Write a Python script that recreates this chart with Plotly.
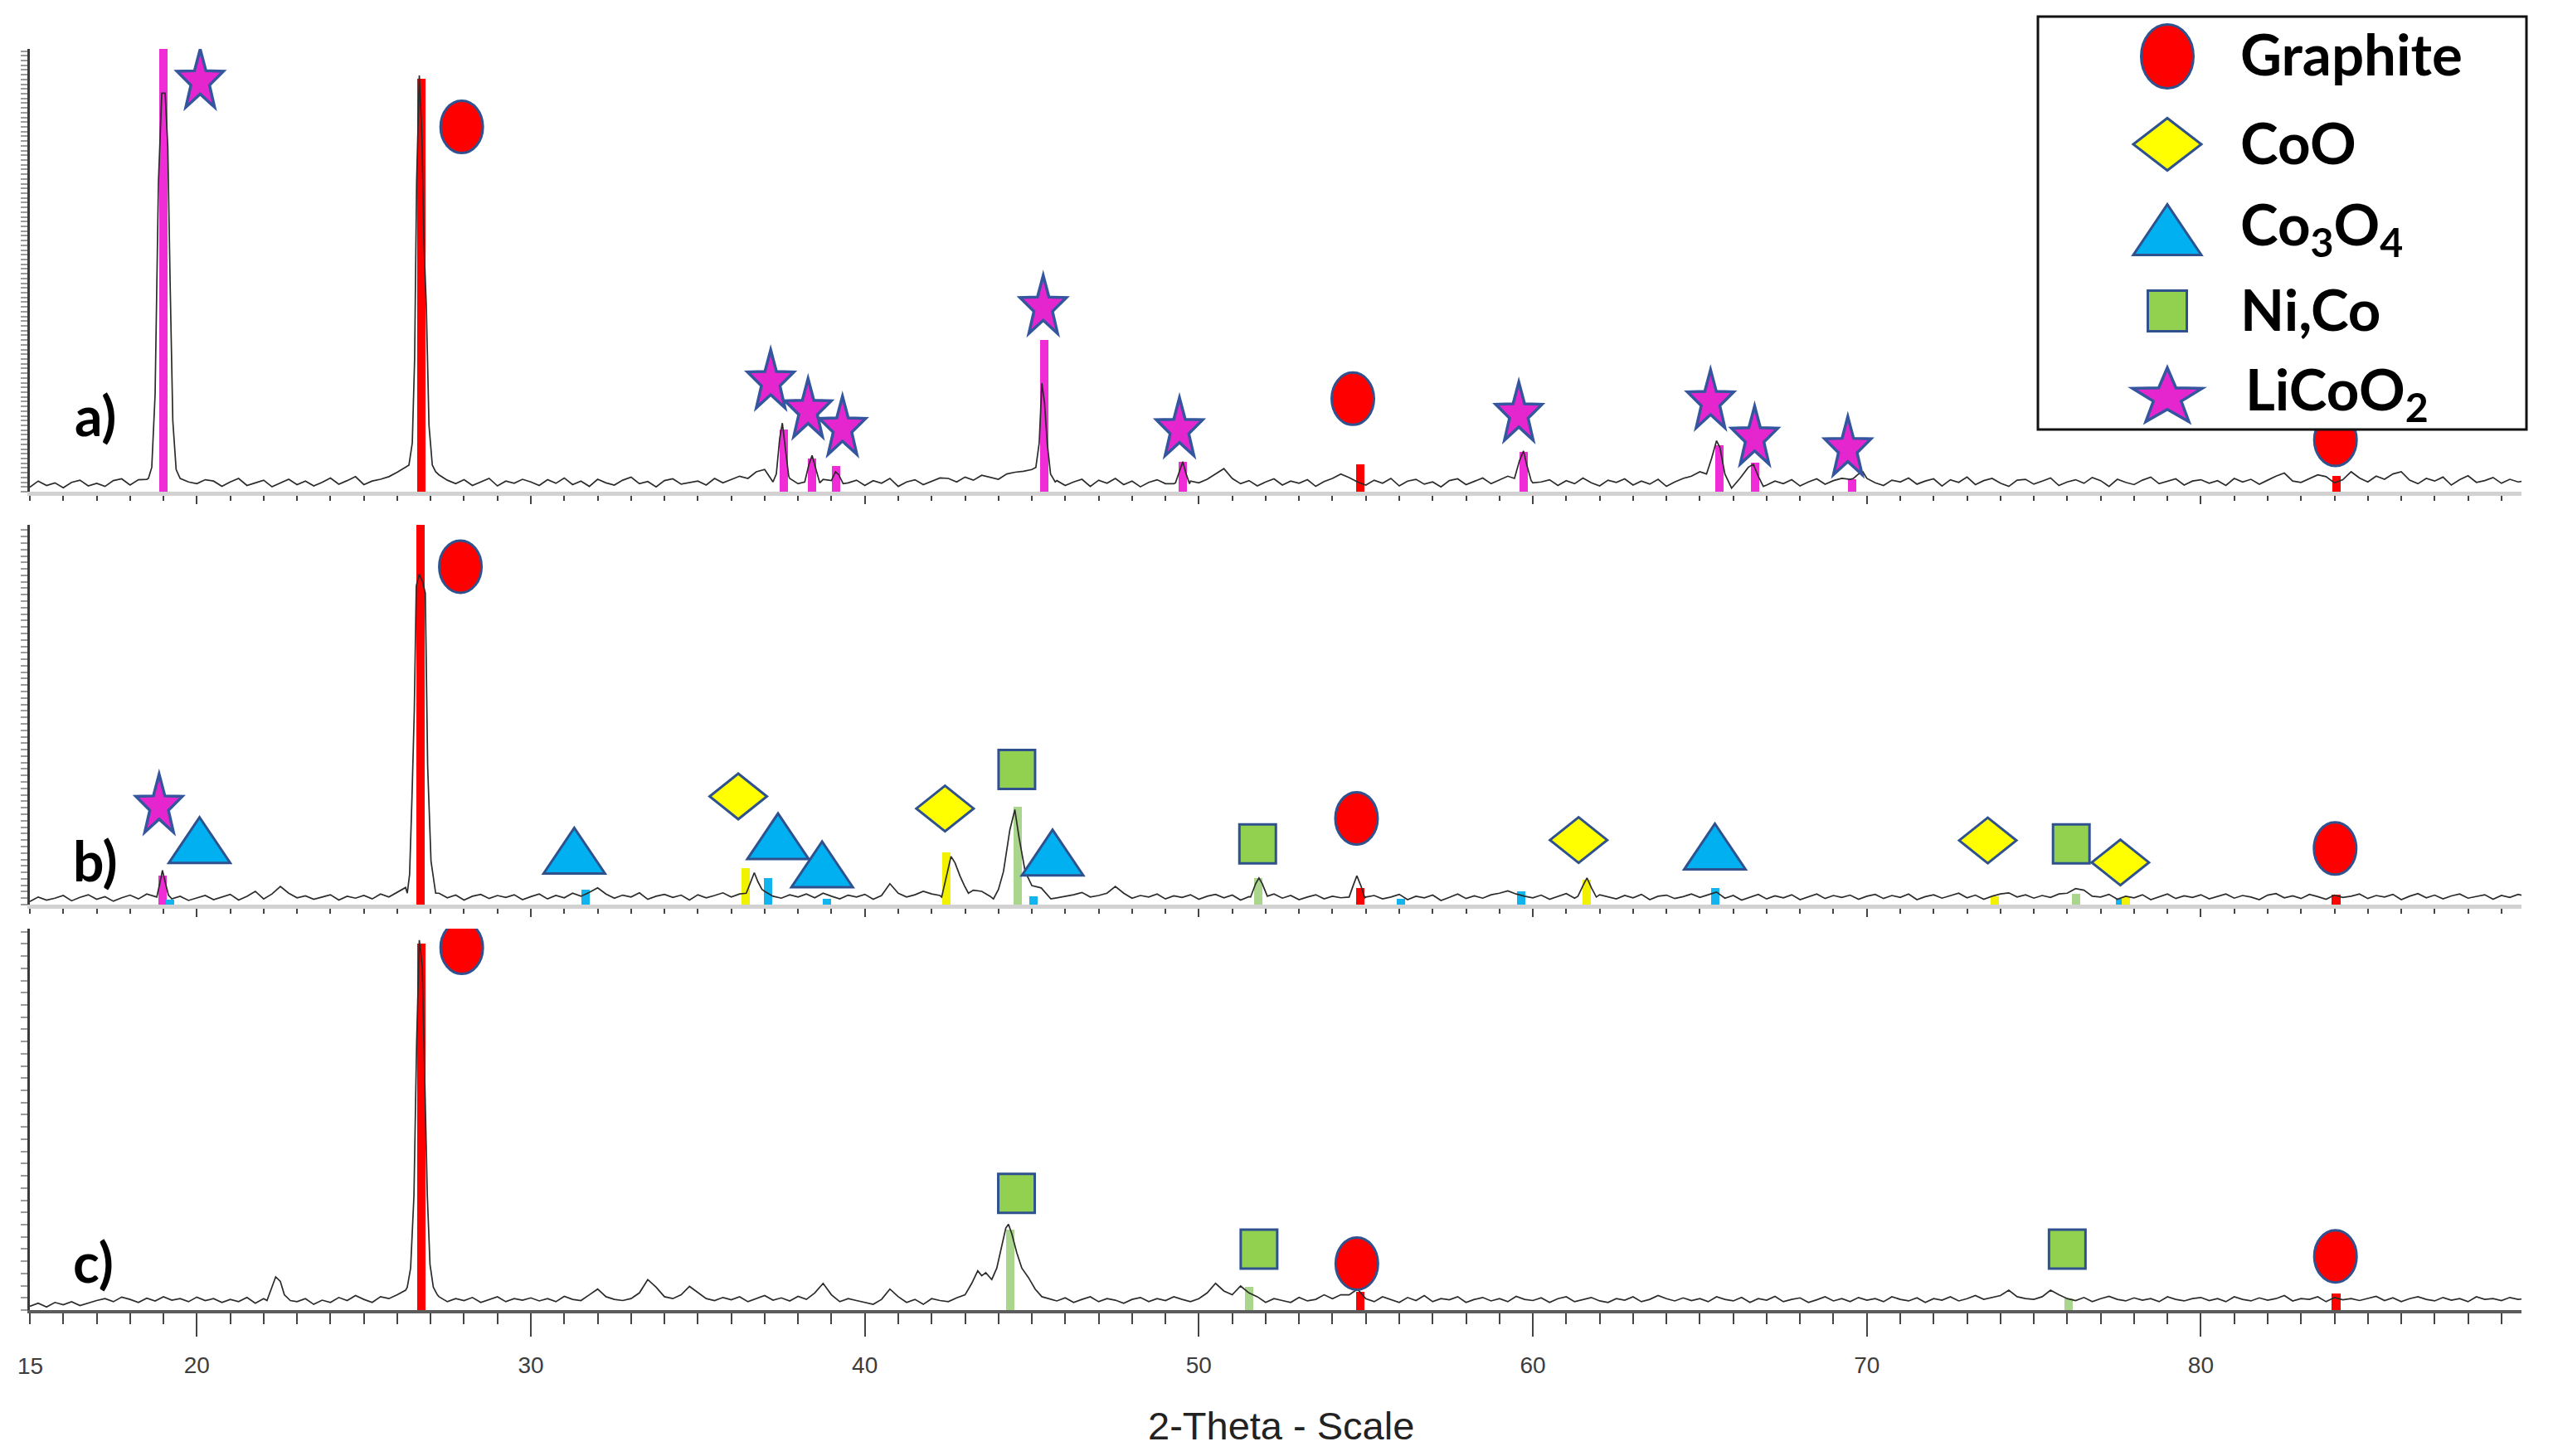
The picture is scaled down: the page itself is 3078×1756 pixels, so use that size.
import math
import plotly.graph_objects as go

# ---------------------------------------------------------------- data
X_START = 15.0          # first sample of the scan (deg 2-theta)
X_STEP = 0.25           # sampling step of the background readings
X_RANGE = [15.0, 89.6]

# background readings (per-mille of each panel's full scale), 15.00 .. 89.75 deg
noise_a = [
    10, 24, 14, 20, 9, 21, 26, 13, 19, 12, 25, 29, 15, 27, 28, 30, 60, 40, 35, 22,
    18, 27, 24, 12, 22, 30, 14, 20, 26, 11, 19, 28, 16, 24, 13, 21, 31, 17, 25, 34,
    16, 24, 28, 34, 44, 55, 60, 60, 60, 38, 26, 18, 27, 14, 22, 30, 13, 24, 19, 28,
    22, 14, 27, 19, 31, 16, 24, 12, 28, 20, 15, 26, 33, 18, 23, 11, 25, 29, 17, 21,
    24, 15, 30, 20, 27, 35, 30, 45, 50, 22, 30, 30, 18, 30, 30, 28, 30, 30, 20, 26,
    14, 25, 19, 30, 12, 22, 27, 16, 24, 31, 30, 22, 33, 26, 37, 32, 28, 40, 44, 46,
    50, 30, 30, 25, 14, 22, 28, 12, 26, 19, 30, 16, 24, 11, 21, 27, 18, 18, 30, 24,
    20, 28, 40, 52, 30, 18, 25, 13, 22, 29, 15, 24, 19, 27, 12, 23, 30, 40, 32, 22,
    15, 26, 19, 30, 13, 24, 28, 17, 22, 11, 25, 29, 16, 23, 31, 18, 26, 35, 30, 30,
    20, 22, 27, 14, 25, 18, 31, 20, 13, 26, 21, 29, 15, 24, 17, 28, 12, 22, 30, 35,
    45, 30, 30, 30, 30, 30, 30, 30, 15, 24, 18, 27, 13, 22, 29, 17, 25, 30, 28, 44,
    36, 20, 14, 26, 22, 31, 17, 24, 29, 13, 27, 21, 33, 16, 25, 30, 19, 12, 26, 28,
    17, 24, 31, 14, 22, 27, 19, 32, 25, 12, 28, 21, 16, 26, 33, 18, 23, 29, 15, 24,
    27, 19, 25, 14, 30, 22, 28, 17, 26, 35, 42, 24, 21, 29, 38, 34, 20, 27, 45, 31,
    22, 35, 28, 40, 45, 26, 18, 30, 24, 33, 15, 27, 36, 21, 25, 32, 19, 28, 22, 25,
]
noise_b = [
    8, 20, 12, 17, 24, 10, 19, 26, 14, 21, 9, 18, 25, 15, 28, 22, 30, 15, 22, 11,
    18, 24, 13, 20, 27, 12, 22, 35, 15, 28, 48, 30, 18, 23, 14, 20, 26, 12, 22, 17,
    24, 15, 28, 20, 33, 45, 30, 30, 30, 30, 18, 25, 12, 22, 27, 16, 24, 19, 26, 13,
    21, 28, 15, 24, 18, 30, 22, 32, 44, 28, 17, 25, 20, 31, 14, 22, 27, 19, 25, 12,
    26, 18, 24, 31, 20, 28, 30, 30, 35, 22, 17, 26, 20, 28, 18, 30, 22, 15, 25, 20,
    27, 14, 24, 55, 30, 20, 26, 35, 28, 24, 30, 30, 30, 38, 35, 22, 30, 30, 30, 30,
    30, 30, 30, 18, 22, 26, 32, 20, 24, 30, 48, 30, 17, 24, 20, 28, 15, 23, 19, 26,
    14, 22, 27, 18, 25, 12, 21, 30, 30, 28, 17, 24, 13, 20, 26, 15, 22, 18, 30, 30,
    20, 24, 15, 20, 27, 13, 22, 18, 25, 11, 19, 28, 16, 23, 17, 26, 30, 36, 28, 22,
    18, 25, 14, 22, 29, 17, 30, 30, 26, 20, 15, 24, 18, 27, 13, 22, 25, 16, 21, 28,
    19, 26, 33, 17, 24, 12, 20, 27, 15, 23, 18, 26, 13, 21, 28, 16, 24, 19, 25, 14,
    22, 27, 16, 24, 19, 28, 13, 21, 26, 17, 23, 30, 18, 25, 14, 22, 28, 31, 20, 26,
    17, 24, 19, 28, 30, 42, 38, 22, 20, 27, 14, 22, 18, 26, 13, 21, 28, 16, 23, 19,
    26, 15, 22, 28, 17, 24, 20, 13, 25, 29, 18, 23, 16, 27, 21, 14, 25, 19, 22, 28,
    16, 24, 20, 27, 13, 22, 29, 18, 25, 15, 23, 28, 17, 21, 26, 14, 24, 19, 27, 22,
]
noise_c = [
    10, 18, 8, 20, 14, 22, 12, 19, 25, 30, 22, 34, 28, 20, 31, 24, 35, 26, 30, 22,
    34, 25, 30, 20, 28, 22, 33, 18, 30, 30, 30, 30, 22, 30, 15, 26, 20, 33, 25, 38,
    28, 20, 35, 30, 40, 52, 30, 30, 30, 35, 22, 30, 25, 33, 20, 28, 35, 22, 30, 26,
    32, 24, 30, 22, 36, 28, 25, 40, 55, 35, 28, 25, 30, 45, 80, 60, 35, 30, 40, 62,
    45, 30, 25, 33, 27, 35, 22, 30, 38, 26, 32, 24, 36, 28, 45, 70, 40, 22, 30, 25,
    20, 15, 28, 55, 35, 20, 28, 15, 30, 25, 22, 32, 40, 30, 30, 30, 30, 30, 30, 30,
    30, 30, 30, 24, 32, 20, 28, 35, 22, 30, 26, 18, 28, 33, 22, 30, 25, 35, 28, 22,
    30, 45, 70, 50, 40, 63, 45, 35, 20, 30, 25, 20, 33, 24, 28, 40, 30, 40, 40, 55,
    30, 22, 35, 28, 20, 33, 25, 38, 22, 30, 27, 35, 20, 28, 33, 24, 30, 22, 36, 28,
    25, 32, 20, 30, 35, 22, 28, 33, 24, 20, 30, 26, 35, 22, 28, 38, 30, 24, 32, 25,
    30, 22, 35, 28, 24, 33, 20, 30, 26, 36, 22, 28, 32, 20, 27, 35, 24, 30, 22, 33,
    26, 30, 22, 35, 28, 24, 32, 20, 30, 26, 35, 24, 30, 38, 28, 33, 38, 52, 35, 30,
    28, 35, 52, 40, 30, 25, 33, 22, 30, 36, 28, 24, 32, 26, 30, 22, 35, 28, 24, 30,
    33, 25, 30, 22, 35, 28, 24, 32, 26, 30, 38, 24, 30, 28, 35, 22, 33, 27, 30, 25,
    30, 36, 25, 32, 22, 30, 35, 28, 24, 33, 26, 30, 22, 35, 28, 30, 25, 33, 28, 30,
]

# diffraction peaks: (2theta, per-mille)
peaks_a = [
    [(18.55, 30), (18.65, 55), (18.75, 220), (18.85, 700), (18.95, 900), (19.05, 900),
     (19.13, 780), (19.2, 470), (19.28, 160), (19.38, 50), (19.5, 30)],
    [(26.35, 60), (26.45, 110), (26.52, 300), (26.58, 700), (26.66, 940), (26.74, 800),
     (26.8, 560), (26.87, 420), (26.95, 150), (27.05, 60), (27.15, 45)],
    [(37.35, 40), (37.45, 120), (37.53, 155), (37.62, 95), (37.72, 35)],
    [(38.2, 22), (38.32, 60), (38.42, 82), (38.52, 55), (38.65, 20)],
    [(39.0, 25), (39.12, 45), (39.22, 38), (39.35, 18)],
    [(45.12, 55), (45.22, 110), (45.3, 245), (45.38, 200), (45.46, 110), (45.56, 40), (45.7, 22)],
    [(49.3, 20), (49.42, 45), (49.52, 68), (49.62, 40), (49.72, 18)],
    [(59.45, 30), (59.6, 70), (59.72, 92), (59.82, 60), (59.95, 25)],
    [(65.2, 40), (65.35, 75), (65.5, 115), (65.6, 100), (65.75, 40), (65.95, 8),
     (66.2, 30), (66.45, 55), (66.6, 62), (66.75, 35), (66.9, 12)],
    [(69.6, 30), (69.75, 40), (69.88, 45), (70.0, 30)],
]
peaks_b = [
    [(18.8, 20), (18.9, 60), (18.97, 90), (19.05, 60), (19.15, 25)],
    [(26.3, 30), (26.37, 80), (26.44, 280), (26.51, 510), (26.57, 840), (26.66, 870),
     (26.76, 850), (26.84, 820), (26.91, 365), (27.01, 115), (27.15, 30)],
    [(36.45, 30), (36.58, 60), (36.69, 84), (36.8, 60), (36.92, 40)],
    [(42.3, 20), (42.45, 75), (42.58, 127), (42.7, 110), (42.85, 75), (42.98, 50), (43.1, 30)],
    [(43.85, 15), (44.0, 40), (44.15, 87), (44.34, 196), (44.49, 250), (44.62, 175),
     (44.8, 87), (45.0, 50), (45.28, 44), (45.57, 15)],
    [(51.55, 20), (51.7, 55), (51.8, 70), (51.9, 55), (52.05, 22)],
    [(54.5, 20), (54.62, 50), (54.73, 76), (54.85, 50), (54.97, 18)],
    [(61.35, 22), (61.5, 50), (61.62, 70), (61.75, 45), (61.9, 20)],
]
peaks_c = [
    [(22.1, 25), (22.25, 60), (22.36, 87), (22.5, 75), (22.62, 40), (22.8, 25)],
    [(26.3, 60), (26.4, 110), (26.5, 300), (26.58, 700), (26.66, 970), (26.75, 900),
     (26.82, 600), (26.9, 300), (26.98, 120), (27.08, 60), (27.2, 40)],
    [(43.2, 70), (43.38, 103), (43.5, 90), (43.62, 98), (43.8, 80), (43.95, 110),
     (44.1, 170), (44.22, 215), (44.3, 225), (44.4, 200), (44.55, 150), (44.7, 110),
     (44.9, 85), (45.1, 55), (45.3, 35)],
]

# reference stick patterns: phase -> (2theta list, per-mille list)
sticks_a = {
    "LiCoO2": ([19.0, 37.58, 38.42, 39.14, 45.37, 49.53, 59.72, 65.58, 66.65, 69.56],
               [1000, 140, 75, 58, 343, 68, 90, 105, 65, 28]),
    "Graphite": ([26.71, 54.84, 84.07], [933, 62, 35]),
}
sticks_b = {
    "LiCoO2": ([18.97], [77]),
    "Co3O4": ([19.2, 31.63, 37.11, 38.87, 45.04, 56.06, 59.64, 65.47, 77.58],
              [13, 40, 70, 15, 22, 15, 36, 44, 15]),
    "CoO": ([36.42, 42.44, 61.62, 73.84, 77.75], [95, 138, 65, 22, 20]),
    "NiCo": ([44.58, 51.78, 76.26], [258, 70, 29]),
    "Graphite": ([26.69, 54.83, 84.05], [1000, 44, 26]),
}
sticks_c = {
    "Graphite": ([26.71, 54.84, 84.05], [960, 48, 44]),
    "NiCo": ([44.35, 51.5, 76.03], [210, 60, 30]),
}

# phase identification symbols: phase -> (2theta list, per-mille list)
marks_a = {
    "LiCoO2": ([20.1, 37.18, 38.3, 39.33, 45.34, 49.42, 59.58, 65.32, 66.64, 69.43],
               [934, 255, 190, 150, 423, 147, 182, 210, 128, 104]),
    "Graphite": ([27.93, 54.61, 84.03], [824, 210, 117]),
}
marks_b = {
    "LiCoO2": ([18.87], [267]),
    "Co3O4": ([20.08, 31.3, 37.4, 38.72, 45.62, 65.45], [170, 142, 180, 106, 137, 153]),
    "Graphite": ([27.89, 54.72, 84.02], [890, 227, 148]),
    "CoO": ([36.21, 42.4, 61.37, 73.62, 77.59], [285, 253, 170, 169, 111]),
    "NiCo": ([44.55, 51.76, 76.12], [356, 160, 160]),
}
marks_c = {
    "Graphite": ([27.93, 54.73, 84.03], [950, 122, 141]),
    "NiCo": ([44.54, 51.8, 76.0], [306, 160, 160]),
}

panel_labels = ["a)", "b)", "c)"]
legend_order = ["Graphite", "CoO", "Co3O4", "NiCo", "LiCoO2"]
legend_text = {
    "Graphite": "Graphite",
    "CoO": "CoO",
    "Co3O4": "Co<sub>3</sub>O<sub>4</sub>",
    "NiCo": "Ni,Co",
    "LiCoO2": "LiCoO<sub>2</sub>",
}
first_tick_label = "15"
x_title = "2-Theta - Scale"

# ---------------------------------------------------------------- styles
FILL = {"Graphite": "#FF0000", "CoO": "#FFFF00", "Co3O4": "#00B0F0",
        "NiCo": "#92D050", "LiCoO2": "#E526CF"}
STICK = {"Graphite": "#FF0000", "CoO": "#F2F200", "Co3O4": "#12B4F0",
         "NiCo": "#A9D58C", "LiCoO2": "#F02CD6"}
OUTLINE = "#2F528F"
MARK_SIZE = {"Graphite": (51, 63), "CoO": (69, 55), "Co3O4": (74, 55),
             "NiCo": (44, 47), "LiCoO2": (56, 70)}
LEG_SIZE = {"Graphite": (63, 77), "CoO": (82, 63), "Co3O4": (82, 61),
            "NiCo": (47, 49), "LiCoO2": (84, 65)}
TICK_FONT = dict(family="Liberation Sans", size=28, color="#3d3d3d")

FIG_W, FIG_H = 3062, 1740
OFF = 8                               # page body margin
PL, PR, PT, PB = 36, 3040, 8, 1580    # plot area on the page (px)


def fx(px):
    return (px - PL) / (PR - PL)


def fy(py):
    return (PB - py) / (PB - PT)


panels = [
    dict(base=593, top=59, dtick=10.7, lab=(115, 501), noise=noise_a, peaks=peaks_a,
         sticks=sticks_a, marks=marks_a),
    dict(base=1091, top=633, dtick=17, lab=(115, 1037), noise=noise_b, peaks=peaks_b,
         sticks=sticks_b, marks=marks_b),
    dict(base=1580, top=1120, dtick=32, lab=(112, 1521), noise=noise_c, peaks=peaks_c,
         sticks=sticks_c, marks=marks_c),
]


def assemble(noise, peaks):
    pts = [(round(X_START + X_STEP * i, 3), v) for i, v in enumerate(noise)]
    for pk in peaks:
        lo, hi = pk[0][0], pk[-1][0]
        pts = [p for p in pts if not (lo <= p[0] <= hi)]
        pts.extend(pk)
    pts.sort(key=lambda p: p[0])
    return [p[0] for p in pts], [p[1] for p in pts]


def star_path(w, h, inner=0.40):
    pts = []
    for k in range(10):
        ang = math.pi / 2 + k * math.pi / 5
        r = 1.0 if k % 2 == 0 else inner
        pts.append((r * math.cos(ang), r * math.sin(ang)))
    xs = [p[0] for p in pts]
    ys = [p[1] for p in pts]
    cx, cy = (max(xs) + min(xs)) / 2, (max(ys) + min(ys)) / 2
    sx, sy = w / (max(xs) - min(xs)), h / (max(ys) - min(ys))
    return "M " + " L ".join(f"{(x - cx) * sx:.2f},{(y - cy) * sy:.2f}" for x, y in pts) + " Z"


def symbol_shape(kind, x, y, xref, yref, w, h):
    s = dict(xref=xref, yref=yref, xsizemode="pixel", ysizemode="pixel",
             xanchor=x, yanchor=y, fillcolor=FILL[kind], layer="above",
             line=dict(color=OUTLINE, width=3))
    hw, hh = w / 2, h / 2
    if kind == "Graphite":
        s.update(type="circle", x0=-hw, x1=hw, y0=-hh, y1=hh)
    elif kind == "NiCo":
        s.update(type="rect", x0=-hw, x1=hw, y0=-hh, y1=hh)
    elif kind == "CoO":
        s.update(type="path", path=f"M {-hw},0 L 0,{hh} L {hw},0 L 0,{-hh} Z")
    elif kind == "Co3O4":
        s.update(type="path", path=f"M {-hw},{-hh} L {hw},{-hh} L 0,{hh} Z")
    else:
        s.update(type="path", path=star_path(w, h), line=dict(color="#34569E", width=3.5))
    return s


fig = go.Figure()
shapes = []
annotations = []
layout_axes = {}

for i, p in enumerate(panels, start=1):
    xr = "x" if i == 1 else f"x{i}"
    yr = "y" if i == 1 else f"y{i}"
    xs, ys = assemble(p["noise"], p["peaks"])
    fig.add_trace(go.Scatter(x=xs, y=ys, mode="lines", xaxis=xr, yaxis=yr,
                             line=dict(color="#2b2b2b", width=1.7), hoverinfo="skip"))
    for phase, (sx, sh) in p["sticks"].items():
        fig.add_trace(go.Bar(x=sx, y=sh, width=0.25, xaxis=xr, yaxis=yr, opacity=1,
                             marker=dict(color=STICK[phase], line=dict(width=0))))
    for phase, (mx, my) in p["marks"].items():
        w, h = MARK_SIZE[phase]
        for a, b in zip(mx, my):
            shapes.append(symbol_shape(phase, a, b, xr, yr, w, h))

    last = (i == 3)
    key_x = "xaxis" if i == 1 else f"xaxis{i}"
    key_y = "yaxis" if i == 1 else f"yaxis{i}"
    tcol = "#444444"
    layout_axes[key_x] = dict(
        domain=[0, 1], anchor=yr, range=X_RANGE, showgrid=False, zeroline=False,
        showline=True, linecolor="#5c5c5c" if last else "#d2d2d2", linewidth=4 if last else 5,
        ticks="outside", tick0=10, dtick=10, ticklen=28 if last else 10, tickwidth=2,
        tickcolor=tcol, showticklabels=last, tickfont=TICK_FONT,
        ticklabelstandoff=10, automargin=False,
        minor=dict(ticks="outside", tickmode="linear", tick0=15, dtick=1,
                   ticklen=13 if last else 6, tickwidth=2 if last else 1.5,
                   tickcolor=tcol, showgrid=False),
    )
    key_o = f"xaxis{i + 3}"
    layout_axes[key_o] = dict(
        overlaying=xr, anchor=yr, range=X_RANGE, showgrid=False, zeroline=False,
        showline=False, ticks="outside", tickmode="array",
        tickvals=[15, 25, 35, 45, 55, 65, 75, 85],
        ticklen=21 if last else 8, tickwidth=2, tickcolor=tcol, showticklabels=False,
        automargin=False,
    )
    layout_axes[key_y] = dict(
        domain=[fy(p["base"]), fy(p["top"])], anchor=xr, range=[0, 1000],
        showgrid=False, zeroline=False, showline=True, linecolor="#3a3a3a", linewidth=3,
        ticks="outside", ticklen=8, tickwidth=1.5, tickcolor="#9a9a9a",
        tick0=0, dtick=p["dtick"], showticklabels=False, automargin=False,
    )
    lx, ly = p["lab"]
    annotations.append(dict(text=f"<b>{panel_labels[i - 1]}</b>", x=fx(lx), y=fy(ly),
                            xref="paper", yref="paper", xanchor="center", yanchor="middle",
                            showarrow=False,
                            font=dict(family="Lato", size=66, color="#000000")))

# first tick label of the bottom scale (sits on the axis' left end)
annotations.append(dict(text=first_tick_label, x=X_RANGE[0], xref="x3", y=fy(1647),
                        yref="paper", xanchor="center", yanchor="middle", showarrow=False,
                        font=TICK_FONT))

# legend box
shapes.append(dict(type="rect", xref="paper", yref="paper", x0=fx(2457), x1=fx(3046),
                   y0=fy(518), y1=fy(20), line=dict(color="#111111", width=3),
                   fillcolor="#FFFFFF", layer="above"))
leg_rows = [68, 174, 277, 375, 476]
for phase, ry in zip(legend_order, leg_rows):
    w, h = LEG_SIZE[phase]
    shapes.append(symbol_shape(phase, fx(2613), fy(ry), "paper", "paper", w, h))
    tx = 2705 if phase == "LiCoO2" else 2699
    annotations.append(dict(text=f"<b>{legend_text[phase]}</b>", x=fx(tx), y=fy(ry - 3),
                            xref="paper", yref="paper", xanchor="left", yanchor="middle",
                            showarrow=False,
                            font=dict(family="Lato", size=69, color="#000000")))

annotations.append(dict(text=x_title, x=fx(1544), y=fy(1719), xref="paper", yref="paper",
                        xanchor="center", yanchor="middle", showarrow=False,
                        font=dict(family="Liberation Sans", size=47, color="#222222")))

fig.update_layout(
    width=FIG_W, height=FIG_H,
    margin=dict(l=PL - OFF, r=(OFF + FIG_W) - PR, t=PT - OFF, b=(OFF + FIG_H) - PB, pad=0),
    paper_bgcolor="#FFFFFF", plot_bgcolor="#FFFFFF",
    showlegend=False, barmode="overlay", bargap=0,
    shapes=shapes, annotations=annotations,
    **layout_axes,
)

fig.write_html("out.html")
